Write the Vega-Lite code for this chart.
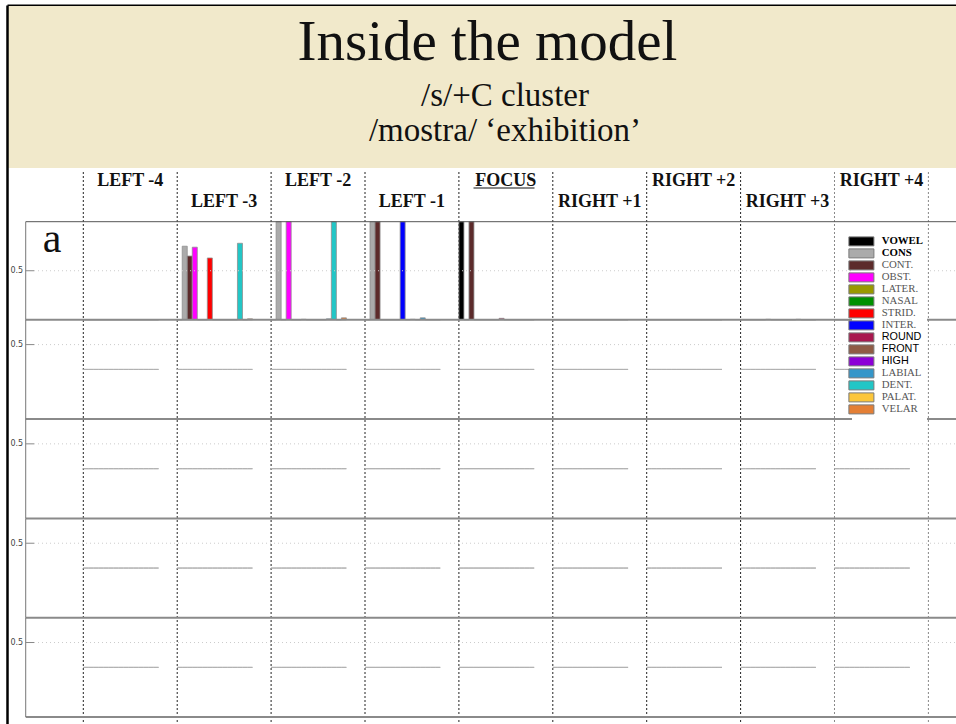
{
"$schema":"https://vega.github.io/schema/vega-lite/v6.json",
"width":949,"height":719,"autosize":"none",
"padding":{"left":7,"top":5,"right":0,"bottom":0},
"background":"#ffffff",
"config":{"view":{"stroke":null}},
"datasets":{
"positions":[{"position":"LEFT -4"},{"position":"LEFT -3"},{"position":"LEFT -2"},{"position":"LEFT -1"},{"position":"FOCUS"},{"position":"RIGHT +1"},{"position":"RIGHT +2"},{"position":"RIGHT +3"},{"position":"RIGHT +4"}],
"row_a":[
{"position":"LEFT -4","feature":"VOWEL","value":0},{"position":"LEFT -4","feature":"CONS","value":0},{"position":"LEFT -4","feature":"CONT.","value":0},{"position":"LEFT -4","feature":"OBST.","value":0},{"position":"LEFT -4","feature":"LATER.","value":0},{"position":"LEFT -4","feature":"NASAL","value":0},{"position":"LEFT -4","feature":"STRID.","value":0},{"position":"LEFT -4","feature":"INTER.","value":0},{"position":"LEFT -4","feature":"ROUND","value":0},{"position":"LEFT -4","feature":"FRONT","value":0},{"position":"LEFT -4","feature":"HIGH","value":0},{"position":"LEFT -4","feature":"LABIAL","value":0},{"position":"LEFT -4","feature":"DENT.","value":0},{"position":"LEFT -4","feature":"PALAT.","value":0},{"position":"LEFT -4","feature":"VELAR","value":0},
{"position":"LEFT -3","feature":"VOWEL","value":0},{"position":"LEFT -3","feature":"CONS","value":0.75},{"position":"LEFT -3","feature":"CONT.","value":0.65},{"position":"LEFT -3","feature":"OBST.","value":0.74},{"position":"LEFT -3","feature":"LATER.","value":0},{"position":"LEFT -3","feature":"NASAL","value":0},{"position":"LEFT -3","feature":"STRID.","value":0.63},{"position":"LEFT -3","feature":"INTER.","value":0},{"position":"LEFT -3","feature":"ROUND","value":0},{"position":"LEFT -3","feature":"FRONT","value":0},{"position":"LEFT -3","feature":"HIGH","value":0},{"position":"LEFT -3","feature":"LABIAL","value":0},{"position":"LEFT -3","feature":"DENT.","value":0.78},{"position":"LEFT -3","feature":"PALAT.","value":0},{"position":"LEFT -3","feature":"VELAR","value":0.01},
{"position":"LEFT -2","feature":"VOWEL","value":0},{"position":"LEFT -2","feature":"CONS","value":1},{"position":"LEFT -2","feature":"CONT.","value":0},{"position":"LEFT -2","feature":"OBST.","value":1},{"position":"LEFT -2","feature":"LATER.","value":0},{"position":"LEFT -2","feature":"NASAL","value":0},{"position":"LEFT -2","feature":"STRID.","value":0.005},{"position":"LEFT -2","feature":"INTER.","value":0},{"position":"LEFT -2","feature":"ROUND","value":0},{"position":"LEFT -2","feature":"FRONT","value":0},{"position":"LEFT -2","feature":"HIGH","value":0},{"position":"LEFT -2","feature":"LABIAL","value":0.01},{"position":"LEFT -2","feature":"DENT.","value":1},{"position":"LEFT -2","feature":"PALAT.","value":0},{"position":"LEFT -2","feature":"VELAR","value":0.02},
{"position":"LEFT -1","feature":"VOWEL","value":0},{"position":"LEFT -1","feature":"CONS","value":1},{"position":"LEFT -1","feature":"CONT.","value":1},{"position":"LEFT -1","feature":"OBST.","value":0},{"position":"LEFT -1","feature":"LATER.","value":0},{"position":"LEFT -1","feature":"NASAL","value":0},{"position":"LEFT -1","feature":"STRID.","value":0},{"position":"LEFT -1","feature":"INTER.","value":1},{"position":"LEFT -1","feature":"ROUND","value":0},{"position":"LEFT -1","feature":"FRONT","value":0.005},{"position":"LEFT -1","feature":"HIGH","value":0},{"position":"LEFT -1","feature":"LABIAL","value":0.02},{"position":"LEFT -1","feature":"DENT.","value":0},{"position":"LEFT -1","feature":"PALAT.","value":0},{"position":"LEFT -1","feature":"VELAR","value":0},
{"position":"FOCUS","feature":"VOWEL","value":1},{"position":"FOCUS","feature":"CONS","value":0},{"position":"FOCUS","feature":"CONT.","value":1},{"position":"FOCUS","feature":"OBST.","value":0},{"position":"FOCUS","feature":"LATER.","value":0},{"position":"FOCUS","feature":"NASAL","value":0},{"position":"FOCUS","feature":"STRID.","value":0},{"position":"FOCUS","feature":"INTER.","value":0},{"position":"FOCUS","feature":"ROUND","value":0.015},{"position":"FOCUS","feature":"FRONT","value":0},{"position":"FOCUS","feature":"HIGH","value":0},{"position":"FOCUS","feature":"LABIAL","value":0},{"position":"FOCUS","feature":"DENT.","value":0},{"position":"FOCUS","feature":"PALAT.","value":0},{"position":"FOCUS","feature":"VELAR","value":0},
{"position":"RIGHT +1","feature":"VOWEL","value":0},{"position":"RIGHT +1","feature":"CONS","value":0},{"position":"RIGHT +1","feature":"CONT.","value":0},{"position":"RIGHT +1","feature":"OBST.","value":0},{"position":"RIGHT +1","feature":"LATER.","value":0},{"position":"RIGHT +1","feature":"NASAL","value":0},{"position":"RIGHT +1","feature":"STRID.","value":0},{"position":"RIGHT +1","feature":"INTER.","value":0},{"position":"RIGHT +1","feature":"ROUND","value":0},{"position":"RIGHT +1","feature":"FRONT","value":0},{"position":"RIGHT +1","feature":"HIGH","value":0},{"position":"RIGHT +1","feature":"LABIAL","value":0},{"position":"RIGHT +1","feature":"DENT.","value":0},{"position":"RIGHT +1","feature":"PALAT.","value":0},{"position":"RIGHT +1","feature":"VELAR","value":0},
{"position":"RIGHT +2","feature":"VOWEL","value":0},{"position":"RIGHT +2","feature":"CONS","value":0},{"position":"RIGHT +2","feature":"CONT.","value":0},{"position":"RIGHT +2","feature":"OBST.","value":0},{"position":"RIGHT +2","feature":"LATER.","value":0},{"position":"RIGHT +2","feature":"NASAL","value":0},{"position":"RIGHT +2","feature":"STRID.","value":0},{"position":"RIGHT +2","feature":"INTER.","value":0},{"position":"RIGHT +2","feature":"ROUND","value":0},{"position":"RIGHT +2","feature":"FRONT","value":0},{"position":"RIGHT +2","feature":"HIGH","value":0},{"position":"RIGHT +2","feature":"LABIAL","value":0},{"position":"RIGHT +2","feature":"DENT.","value":0},{"position":"RIGHT +2","feature":"PALAT.","value":0},{"position":"RIGHT +2","feature":"VELAR","value":0},
{"position":"RIGHT +3","feature":"VOWEL","value":0},{"position":"RIGHT +3","feature":"CONS","value":0},{"position":"RIGHT +3","feature":"CONT.","value":0},{"position":"RIGHT +3","feature":"OBST.","value":0},{"position":"RIGHT +3","feature":"LATER.","value":0},{"position":"RIGHT +3","feature":"NASAL","value":0.005},{"position":"RIGHT +3","feature":"STRID.","value":0},{"position":"RIGHT +3","feature":"INTER.","value":0},{"position":"RIGHT +3","feature":"ROUND","value":0},{"position":"RIGHT +3","feature":"FRONT","value":0},{"position":"RIGHT +3","feature":"HIGH","value":0},{"position":"RIGHT +3","feature":"LABIAL","value":0.005},{"position":"RIGHT +3","feature":"DENT.","value":0},{"position":"RIGHT +3","feature":"PALAT.","value":0},{"position":"RIGHT +3","feature":"VELAR","value":0},
{"position":"RIGHT +4","feature":"VOWEL","value":0},{"position":"RIGHT +4","feature":"CONS","value":0},{"position":"RIGHT +4","feature":"CONT.","value":0},{"position":"RIGHT +4","feature":"OBST.","value":0},{"position":"RIGHT +4","feature":"LATER.","value":0},{"position":"RIGHT +4","feature":"NASAL","value":0},{"position":"RIGHT +4","feature":"STRID.","value":0},{"position":"RIGHT +4","feature":"INTER.","value":0},{"position":"RIGHT +4","feature":"ROUND","value":0},{"position":"RIGHT +4","feature":"FRONT","value":0},{"position":"RIGHT +4","feature":"HIGH","value":0},{"position":"RIGHT +4","feature":"LABIAL","value":0},{"position":"RIGHT +4","feature":"DENT.","value":0},{"position":"RIGHT +4","feature":"PALAT.","value":0},{"position":"RIGHT +4","feature":"VELAR","value":0}
],
"blank":[
{"position":"LEFT -4","feature":"VOWEL","value":0},{"position":"LEFT -4","feature":"CONS","value":0},{"position":"LEFT -4","feature":"CONT.","value":0},{"position":"LEFT -4","feature":"OBST.","value":0},{"position":"LEFT -4","feature":"LATER.","value":0},{"position":"LEFT -4","feature":"NASAL","value":0},{"position":"LEFT -4","feature":"STRID.","value":0},{"position":"LEFT -4","feature":"INTER.","value":0},{"position":"LEFT -4","feature":"ROUND","value":0},{"position":"LEFT -4","feature":"FRONT","value":0},{"position":"LEFT -4","feature":"HIGH","value":0},{"position":"LEFT -4","feature":"LABIAL","value":0},{"position":"LEFT -4","feature":"DENT.","value":0},{"position":"LEFT -4","feature":"PALAT.","value":0},{"position":"LEFT -4","feature":"VELAR","value":0},
{"position":"LEFT -3","feature":"VOWEL","value":0},{"position":"LEFT -3","feature":"CONS","value":0},{"position":"LEFT -3","feature":"CONT.","value":0},{"position":"LEFT -3","feature":"OBST.","value":0},{"position":"LEFT -3","feature":"LATER.","value":0},{"position":"LEFT -3","feature":"NASAL","value":0},{"position":"LEFT -3","feature":"STRID.","value":0},{"position":"LEFT -3","feature":"INTER.","value":0},{"position":"LEFT -3","feature":"ROUND","value":0},{"position":"LEFT -3","feature":"FRONT","value":0},{"position":"LEFT -3","feature":"HIGH","value":0},{"position":"LEFT -3","feature":"LABIAL","value":0},{"position":"LEFT -3","feature":"DENT.","value":0},{"position":"LEFT -3","feature":"PALAT.","value":0},{"position":"LEFT -3","feature":"VELAR","value":0},
{"position":"LEFT -2","feature":"VOWEL","value":0},{"position":"LEFT -2","feature":"CONS","value":0},{"position":"LEFT -2","feature":"CONT.","value":0},{"position":"LEFT -2","feature":"OBST.","value":0},{"position":"LEFT -2","feature":"LATER.","value":0},{"position":"LEFT -2","feature":"NASAL","value":0},{"position":"LEFT -2","feature":"STRID.","value":0},{"position":"LEFT -2","feature":"INTER.","value":0},{"position":"LEFT -2","feature":"ROUND","value":0},{"position":"LEFT -2","feature":"FRONT","value":0},{"position":"LEFT -2","feature":"HIGH","value":0},{"position":"LEFT -2","feature":"LABIAL","value":0},{"position":"LEFT -2","feature":"DENT.","value":0},{"position":"LEFT -2","feature":"PALAT.","value":0},{"position":"LEFT -2","feature":"VELAR","value":0},
{"position":"LEFT -1","feature":"VOWEL","value":0},{"position":"LEFT -1","feature":"CONS","value":0},{"position":"LEFT -1","feature":"CONT.","value":0},{"position":"LEFT -1","feature":"OBST.","value":0},{"position":"LEFT -1","feature":"LATER.","value":0},{"position":"LEFT -1","feature":"NASAL","value":0},{"position":"LEFT -1","feature":"STRID.","value":0},{"position":"LEFT -1","feature":"INTER.","value":0},{"position":"LEFT -1","feature":"ROUND","value":0},{"position":"LEFT -1","feature":"FRONT","value":0},{"position":"LEFT -1","feature":"HIGH","value":0},{"position":"LEFT -1","feature":"LABIAL","value":0},{"position":"LEFT -1","feature":"DENT.","value":0},{"position":"LEFT -1","feature":"PALAT.","value":0},{"position":"LEFT -1","feature":"VELAR","value":0},
{"position":"FOCUS","feature":"VOWEL","value":0},{"position":"FOCUS","feature":"CONS","value":0},{"position":"FOCUS","feature":"CONT.","value":0},{"position":"FOCUS","feature":"OBST.","value":0},{"position":"FOCUS","feature":"LATER.","value":0},{"position":"FOCUS","feature":"NASAL","value":0},{"position":"FOCUS","feature":"STRID.","value":0},{"position":"FOCUS","feature":"INTER.","value":0},{"position":"FOCUS","feature":"ROUND","value":0},{"position":"FOCUS","feature":"FRONT","value":0},{"position":"FOCUS","feature":"HIGH","value":0},{"position":"FOCUS","feature":"LABIAL","value":0},{"position":"FOCUS","feature":"DENT.","value":0},{"position":"FOCUS","feature":"PALAT.","value":0},{"position":"FOCUS","feature":"VELAR","value":0},
{"position":"RIGHT +1","feature":"VOWEL","value":0},{"position":"RIGHT +1","feature":"CONS","value":0},{"position":"RIGHT +1","feature":"CONT.","value":0},{"position":"RIGHT +1","feature":"OBST.","value":0},{"position":"RIGHT +1","feature":"LATER.","value":0},{"position":"RIGHT +1","feature":"NASAL","value":0},{"position":"RIGHT +1","feature":"STRID.","value":0},{"position":"RIGHT +1","feature":"INTER.","value":0},{"position":"RIGHT +1","feature":"ROUND","value":0},{"position":"RIGHT +1","feature":"FRONT","value":0},{"position":"RIGHT +1","feature":"HIGH","value":0},{"position":"RIGHT +1","feature":"LABIAL","value":0},{"position":"RIGHT +1","feature":"DENT.","value":0},{"position":"RIGHT +1","feature":"PALAT.","value":0},{"position":"RIGHT +1","feature":"VELAR","value":0},
{"position":"RIGHT +2","feature":"VOWEL","value":0},{"position":"RIGHT +2","feature":"CONS","value":0},{"position":"RIGHT +2","feature":"CONT.","value":0},{"position":"RIGHT +2","feature":"OBST.","value":0},{"position":"RIGHT +2","feature":"LATER.","value":0},{"position":"RIGHT +2","feature":"NASAL","value":0},{"position":"RIGHT +2","feature":"STRID.","value":0},{"position":"RIGHT +2","feature":"INTER.","value":0},{"position":"RIGHT +2","feature":"ROUND","value":0},{"position":"RIGHT +2","feature":"FRONT","value":0},{"position":"RIGHT +2","feature":"HIGH","value":0},{"position":"RIGHT +2","feature":"LABIAL","value":0},{"position":"RIGHT +2","feature":"DENT.","value":0},{"position":"RIGHT +2","feature":"PALAT.","value":0},{"position":"RIGHT +2","feature":"VELAR","value":0},
{"position":"RIGHT +3","feature":"VOWEL","value":0},{"position":"RIGHT +3","feature":"CONS","value":0},{"position":"RIGHT +3","feature":"CONT.","value":0},{"position":"RIGHT +3","feature":"OBST.","value":0},{"position":"RIGHT +3","feature":"LATER.","value":0},{"position":"RIGHT +3","feature":"NASAL","value":0},{"position":"RIGHT +3","feature":"STRID.","value":0},{"position":"RIGHT +3","feature":"INTER.","value":0},{"position":"RIGHT +3","feature":"ROUND","value":0},{"position":"RIGHT +3","feature":"FRONT","value":0},{"position":"RIGHT +3","feature":"HIGH","value":0},{"position":"RIGHT +3","feature":"LABIAL","value":0},{"position":"RIGHT +3","feature":"DENT.","value":0},{"position":"RIGHT +3","feature":"PALAT.","value":0},{"position":"RIGHT +3","feature":"VELAR","value":0},
{"position":"RIGHT +4","feature":"VOWEL","value":0},{"position":"RIGHT +4","feature":"CONS","value":0},{"position":"RIGHT +4","feature":"CONT.","value":0},{"position":"RIGHT +4","feature":"OBST.","value":0},{"position":"RIGHT +4","feature":"LATER.","value":0},{"position":"RIGHT +4","feature":"NASAL","value":0},{"position":"RIGHT +4","feature":"STRID.","value":0},{"position":"RIGHT +4","feature":"INTER.","value":0},{"position":"RIGHT +4","feature":"ROUND","value":0},{"position":"RIGHT +4","feature":"FRONT","value":0},{"position":"RIGHT +4","feature":"HIGH","value":0},{"position":"RIGHT +4","feature":"LABIAL","value":0},{"position":"RIGHT +4","feature":"DENT.","value":0},{"position":"RIGHT +4","feature":"PALAT.","value":0},{"position":"RIGHT +4","feature":"VELAR","value":0}
]
},
"resolve":{"scale":{"y":"independent"},"axis":{"x":"independent","y":"independent"}},
"layer":[
{
"layer":[
{"data":{"values":[{"part":"header"}]},"mark":{"type":"rect","fill":"#F1E9CB"},
 "encoding":{"y":{"field":"part","type":"nominal","scale":{"domain":["header"],"paddingInner":0.4183,"paddingOuter":1,"align":0.0018},"axis":{"orient":"left","domain":true,"domainColor":"#000000","domainWidth":2.5,"labels":false,"ticks":false,"grid":false,"title":null}}}},
{"data":{"values":[{"line":"Inside the model"}]},"mark":{"type":"text","font":"Liberation Serif","fontSize":57,"baseline":"alphabetic","align":"center","color":"#111111"},
 "encoding":{"x":{"datum":"FOCUS","type":"nominal","bandPosition":0.3798,"scale":{"domain":["LEFT -4","LEFT -3","LEFT -2","LEFT -1","FOCUS","RIGHT +1","RIGHT +2","RIGHT +3","RIGHT +4"],"paddingInner":0.198,"paddingOuter":0.6523,"align":0.6229},"axis":{"orient":"top","domain":true,"domainColor":"#000000","domainWidth":2,"labels":false,"ticks":false,"grid":false,"title":null}},
  "y":{"datum":"header","type":"nominal","bandPosition":0.333},"text":{"field":"line"}}},
{"data":{"values":[{"line":"/s/+C cluster"}]},"mark":{"type":"text","font":"Liberation Serif","fontSize":33,"baseline":"alphabetic","align":"center","color":"#111111"},
 "encoding":{"x":{"datum":"FOCUS","type":"nominal","bandPosition":0.6121},"y":{"datum":"header","type":"nominal","bandPosition":0.617},"text":{"field":"line"}}},
{"data":{"values":[{"line":"/mostra/ ‘exhibition’"}]},"mark":{"type":"text","font":"Liberation Serif","fontSize":33,"baseline":"alphabetic","align":"center","color":"#111111"},
 "encoding":{"x":{"datum":"FOCUS","type":"nominal","bandPosition":0.6121},"y":{"datum":"header","type":"nominal","bandPosition":0.833},"text":{"field":"line"}}},
{"data":{"name":"positions"},"mark":{"type":"rule","strokeDash":[2,2],"strokeWidth":1},
 "encoding":{"x":{"field":"position","type":"nominal","bandPosition":0},"y":{"datum":"header","type":"nominal","bandPosition":1.0247},"y2":{"datum":"header","bandPosition":4.432},
  "color":{"condition":{"test":"datum.position === 'RIGHT +4'","value":"#888888"},"value":"#222222"}}},
{"data":{"values":[{}]},"mark":{"type":"rule","strokeDash":[2,2],"strokeWidth":1,"color":"#888888"},
 "encoding":{"x":{"datum":"RIGHT +4","type":"nominal","bandPosition":1.2468},"y":{"datum":"header","type":"nominal","bandPosition":1.0247},"y2":{"datum":"header","bandPosition":4.432}}},
{"data":{"name":"positions"},"transform":[{"filter":{"field":"position","oneOf":["LEFT -4","LEFT -2","FOCUS","RIGHT +2","RIGHT +4"]}}],
 "mark":{"type":"text","font":"Liberation Serif","fontWeight":"bold","fontSize":18,"baseline":"alphabetic","align":"center","color":"#111111"},
 "encoding":{"x":{"field":"position","type":"nominal","bandPosition":0.6234},"y":{"datum":"header","type":"nominal","bandPosition":1.1111},"text":{"field":"position"}}},
{"data":{"name":"positions"},"transform":[{"filter":{"field":"position","oneOf":["LEFT -3","LEFT -1","RIGHT +1","RIGHT +3"]}}],
 "mark":{"type":"text","font":"Liberation Serif","fontWeight":"bold","fontSize":18,"baseline":"alphabetic","align":"center","color":"#111111"},
 "encoding":{"x":{"field":"position","type":"nominal","bandPosition":0.6234},"y":{"datum":"header","type":"nominal","bandPosition":1.2407},"text":{"field":"position"}}},
{"data":{"values":[{}]},"mark":{"type":"rule","color":"#111111","strokeWidth":1.2},
 "encoding":{"x":{"datum":"FOCUS","type":"nominal","bandPosition":0.1939},"x2":{"datum":"FOCUS","bandPosition":1.0038},"y":{"datum":"header","type":"nominal","bandPosition":1.1235}}}
]
},
{
"layer":[
{"data":{"name":"row_a"},"mark":{"type":"bar","stroke":"#8f8f8f","strokeWidth":0.8},
 "encoding":{"x":{"field":"position","type":"nominal","scale":{"domain":["LEFT -4","LEFT -3","LEFT -2","LEFT -1","FOCUS","RIGHT +1","RIGHT +2","RIGHT +3","RIGHT +4"],"paddingInner":0.198,"paddingOuter":0.6523,"align":0.6229},"axis":null},
  "xOffset":{"field":"feature","type":"nominal","scale":{"domain":["VOWEL","CONS","CONT.","OBST.","LATER.","NASAL","STRID.","INTER.","ROUND","FRONT","HIGH","LABIAL","DENT.","PALAT.","VELAR"],"paddingInner":0,"paddingOuter":0,"align":0}},
  "y":{"field":"value","type":"quantitative","stack":null,"scale":{"domain":[-4.1203,3.2089],"zero":false,"nice":false},"axis":{"orient":"left","offset":-18.7,"values":[0.5],"format":".1f","domain":false,"ticks":false,"grid":false,"title":null,"labelFont":"DejaVu Sans","labelFontSize":8,"labelColor":"#444444","labelPadding":3}},
  "color":{"field":"feature","type":"nominal","scale":{"domain":["VOWEL","CONS","CONT.","OBST.","LATER.","NASAL","STRID.","INTER.","ROUND","FRONT","HIGH","LABIAL","DENT.","PALAT.","VELAR"],"range":["#000000","#ababab","#5c2b2b","#ff00ff","#999900","#009000","#ff0000","#0000ff","#a8174e","#8f5b45","#8c00d6","#3596c9","#22c6c6","#fcc63a","#e47f35"]},
   "legend":{"title":null,"orient":"none","legendX":845,"legendY":227,"direction":"vertical","columns":1,"symbolType":"M-2.78,-1H2.78V1H-2.78Z","symbolSize":81,"symbolStrokeColor":"#7a7a7a","symbolStrokeWidth":1,"symbolOpacity":1,"labelFont":"Liberation Serif","labelFontSize":10.8,"labelColor":"#555555","labelOffset":15,"rowPadding":-2.2,"padding":4,"fillColor":"#ffffff",
    "encode":{"labels":{"update":{"font":{"signal":"indexof(['ROUND','FRONT','HIGH'], datum.label) >= 0 ? 'Liberation Sans' : 'Liberation Serif'"},"fontWeight":{"signal":"indexof(['VOWEL','CONS'], datum.label) >= 0 ? 'bold' : 'normal'"},"fill":{"signal":"indexof(['VOWEL','CONS','ROUND','FRONT','HIGH'], datum.label) >= 0 ? '#000000' : '#555555'"}}}}}}}},
{"data":{"values":[{}]},"mark":{"type":"rule","color":"#555555","strokeWidth":1},
 "encoding":{"x":{"datum":"LEFT -4","type":"nominal","bandPosition":-0.7648},"x2":{"datum":"RIGHT +4","bandPosition":1.65},"y":{"datum":1,"type":"quantitative","scale":{"domain":[-4.1203,3.2089],"zero":false,"nice":false}}}},
{"data":{"values":[{}]},"mark":{"type":"rule","color":"#8a8a8a","strokeWidth":2},
 "encoding":{"x":{"datum":"LEFT -4","type":"nominal","bandPosition":-0.7648},"x2":{"datum":"RIGHT +4","bandPosition":1.65},"y":{"datum":0,"type":"quantitative","scale":{"domain":[-4.1203,3.2089],"zero":false,"nice":false}}}},
{"data":{"values":[{}]},"mark":{"type":"rule","color":"#777777","strokeWidth":1},
 "encoding":{"x":{"datum":"LEFT -4","type":"nominal","bandPosition":-0.7648},"y":{"datum":0,"type":"quantitative","scale":{"domain":[-4.1203,3.2089],"zero":false,"nice":false}},"y2":{"datum":1}}},
{"data":{"values":[{}]},"mark":{"type":"rule","color":"#cccccc","strokeWidth":1,"strokeDash":[1,3]},
 "encoding":{"x":{"datum":"LEFT -4","type":"nominal","bandPosition":-0.6546},"x2":{"datum":"RIGHT +4","bandPosition":1.65},"y":{"datum":0.5,"type":"quantitative","scale":{"domain":[-4.1203,3.2089],"zero":false,"nice":false}}}},
{"data":{"values":[{}]},"mark":{"type":"rule","color":"#888888","strokeWidth":1},
 "encoding":{"x":{"datum":"LEFT -4","type":"nominal","bandPosition":-0.7648},"x2":{"datum":"LEFT -4","bandPosition":-0.6546},"y":{"datum":0.5,"type":"quantitative","scale":{"domain":[-4.1203,3.2089],"zero":false,"nice":false}}}},
{"data":{"values":[{"label":"a"}]},"mark":{"type":"text","font":"Liberation Serif","fontSize":42,"baseline":"alphabetic","align":"center","color":"#111111"},
 "encoding":{"x":{"datum":"LEFT -4","type":"nominal","bandPosition":-0.4152},"y":{"datum":0.691,"type":"quantitative","scale":{"domain":[-4.1203,3.2089],"zero":false,"nice":false}},"text":{"field":"label"}}}
]
},
{
"layer":[
{"data":{"name":"blank"},"mark":{"type":"bar","fill":"#b0b0b0","stroke":"#b0b0b0","strokeWidth":1},
 "encoding":{"x":{"field":"position","type":"nominal","axis":null},"xOffset":{"field":"feature","type":"nominal"},
  "y":{"field":"value","type":"quantitative","stack":null,"scale":{"domain":[-7.1492,7.3468],"zero":false,"nice":false},"axis":{"orient":"left","offset":-18.7,"values":[0.5],"format":".1f","domain":false,"ticks":false,"grid":false,"title":null,"labelFont":"DejaVu Sans","labelFontSize":8,"labelColor":"#444444","labelPadding":3}}}},
{"data":{"values":[{}]},"mark":{"type":"rule","color":"#8a8a8a","strokeWidth":2},
 "encoding":{"x":{"datum":"LEFT -4","type":"nominal","bandPosition":-0.7648},"x2":{"datum":"RIGHT +4","bandPosition":1.65},"y":{"datum":-1,"type":"quantitative","scale":{"domain":[-7.1492,7.3468],"zero":false,"nice":false}}}},
{"data":{"values":[{}]},"mark":{"type":"rule","color":"#777777","strokeWidth":1},
 "encoding":{"x":{"datum":"LEFT -4","type":"nominal","bandPosition":-0.7648},"y":{"datum":-1,"type":"quantitative","scale":{"domain":[-7.1492,7.3468],"zero":false,"nice":false}},"y2":{"datum":1}}},
{"data":{"values":[{}]},"mark":{"type":"rule","color":"#cccccc","strokeWidth":1,"strokeDash":[1,3]},
 "encoding":{"x":{"datum":"LEFT -4","type":"nominal","bandPosition":-0.6546},"x2":{"datum":"RIGHT +4","bandPosition":1.65},"y":{"datum":0.5,"type":"quantitative","scale":{"domain":[-7.1492,7.3468],"zero":false,"nice":false}}}},
{"data":{"values":[{}]},"mark":{"type":"rule","color":"#888888","strokeWidth":1},
 "encoding":{"x":{"datum":"LEFT -4","type":"nominal","bandPosition":-0.7648},"x2":{"datum":"LEFT -4","bandPosition":-0.6546},"y":{"datum":0.5,"type":"quantitative","scale":{"domain":[-7.1492,7.3468],"zero":false,"nice":false}}}}
]
},
{
"layer":[
{"data":{"name":"blank"},"mark":{"type":"bar","fill":"#b0b0b0","stroke":"#b0b0b0","strokeWidth":1},
 "encoding":{"x":{"field":"position","type":"nominal","axis":null},"xOffset":{"field":"feature","type":"nominal"},
  "y":{"field":"value","type":"quantitative","stack":null,"scale":{"domain":[-5.1368,9.3302],"zero":false,"nice":false},"axis":{"orient":"left","offset":-18.7,"values":[0.5],"format":".1f","domain":false,"ticks":false,"grid":false,"title":null,"labelFont":"DejaVu Sans","labelFontSize":8,"labelColor":"#444444","labelPadding":3}}}},
{"data":{"values":[{}]},"mark":{"type":"rule","color":"#8a8a8a","strokeWidth":2},
 "encoding":{"x":{"datum":"LEFT -4","type":"nominal","bandPosition":-0.7648},"x2":{"datum":"RIGHT +4","bandPosition":1.65},"y":{"datum":-1,"type":"quantitative","scale":{"domain":[-5.1368,9.3302],"zero":false,"nice":false}}}},
{"data":{"values":[{}]},"mark":{"type":"rule","color":"#777777","strokeWidth":1},
 "encoding":{"x":{"datum":"LEFT -4","type":"nominal","bandPosition":-0.7648},"y":{"datum":-1,"type":"quantitative","scale":{"domain":[-5.1368,9.3302],"zero":false,"nice":false}},"y2":{"datum":1}}},
{"data":{"values":[{}]},"mark":{"type":"rule","color":"#cccccc","strokeWidth":1,"strokeDash":[1,3]},
 "encoding":{"x":{"datum":"LEFT -4","type":"nominal","bandPosition":-0.6546},"x2":{"datum":"RIGHT +4","bandPosition":1.65},"y":{"datum":0.5,"type":"quantitative","scale":{"domain":[-5.1368,9.3302],"zero":false,"nice":false}}}},
{"data":{"values":[{}]},"mark":{"type":"rule","color":"#888888","strokeWidth":1},
 "encoding":{"x":{"datum":"LEFT -4","type":"nominal","bandPosition":-0.7648},"x2":{"datum":"LEFT -4","bandPosition":-0.6546},"y":{"datum":0.5,"type":"quantitative","scale":{"domain":[-5.1368,9.3302],"zero":false,"nice":false}}}}
]
},
{
"layer":[
{"data":{"name":"blank"},"mark":{"type":"bar","fill":"#b0b0b0","stroke":"#b0b0b0","strokeWidth":1},
 "encoding":{"x":{"field":"position","type":"nominal","axis":null},"xOffset":{"field":"feature","type":"nominal"},
  "y":{"field":"value","type":"quantitative","stack":null,"scale":{"domain":[-3.1409,11.340],"zero":false,"nice":false},"axis":{"orient":"left","offset":-18.7,"values":[0.5],"format":".1f","domain":false,"ticks":false,"grid":false,"title":null,"labelFont":"DejaVu Sans","labelFontSize":8,"labelColor":"#444444","labelPadding":3}}}},
{"data":{"values":[{}]},"mark":{"type":"rule","color":"#8a8a8a","strokeWidth":2},
 "encoding":{"x":{"datum":"LEFT -4","type":"nominal","bandPosition":-0.7648},"x2":{"datum":"RIGHT +4","bandPosition":1.65},"y":{"datum":-1,"type":"quantitative","scale":{"domain":[-3.1409,11.340],"zero":false,"nice":false}}}},
{"data":{"values":[{}]},"mark":{"type":"rule","color":"#777777","strokeWidth":1},
 "encoding":{"x":{"datum":"LEFT -4","type":"nominal","bandPosition":-0.7648},"y":{"datum":-1,"type":"quantitative","scale":{"domain":[-3.1409,11.340],"zero":false,"nice":false}},"y2":{"datum":1}}},
{"data":{"values":[{}]},"mark":{"type":"rule","color":"#cccccc","strokeWidth":1,"strokeDash":[1,3]},
 "encoding":{"x":{"datum":"LEFT -4","type":"nominal","bandPosition":-0.6546},"x2":{"datum":"RIGHT +4","bandPosition":1.65},"y":{"datum":0.5,"type":"quantitative","scale":{"domain":[-3.1409,11.340],"zero":false,"nice":false}}}},
{"data":{"values":[{}]},"mark":{"type":"rule","color":"#888888","strokeWidth":1},
 "encoding":{"x":{"datum":"LEFT -4","type":"nominal","bandPosition":-0.7648},"x2":{"datum":"LEFT -4","bandPosition":-0.6546},"y":{"datum":0.5,"type":"quantitative","scale":{"domain":[-3.1409,11.340],"zero":false,"nice":false}}}}
]
},
{
"layer":[
{"data":{"name":"blank"},"mark":{"type":"bar","fill":"#b0b0b0","stroke":"#b0b0b0","strokeWidth":1},
 "encoding":{"x":{"field":"position","type":"nominal","axis":null},"xOffset":{"field":"feature","type":"nominal"},
  "y":{"field":"value","type":"quantitative","stack":null,"scale":{"domain":[-1.1410,13.341],"zero":false,"nice":false},"axis":{"orient":"left","offset":-18.7,"values":[0.5],"format":".1f","domain":false,"ticks":false,"grid":false,"title":null,"labelFont":"DejaVu Sans","labelFontSize":8,"labelColor":"#444444","labelPadding":3}}}},
{"data":{"values":[{}]},"mark":{"type":"rule","color":"#8a8a8a","strokeWidth":2},
 "encoding":{"x":{"datum":"LEFT -4","type":"nominal","bandPosition":-0.7648},"x2":{"datum":"RIGHT +4","bandPosition":1.65},"y":{"datum":-1,"type":"quantitative","scale":{"domain":[-1.1410,13.341],"zero":false,"nice":false}}}},
{"data":{"values":[{}]},"mark":{"type":"rule","color":"#777777","strokeWidth":1},
 "encoding":{"x":{"datum":"LEFT -4","type":"nominal","bandPosition":-0.7648},"y":{"datum":-1,"type":"quantitative","scale":{"domain":[-1.1410,13.341],"zero":false,"nice":false}},"y2":{"datum":1}}},
{"data":{"values":[{}]},"mark":{"type":"rule","color":"#cccccc","strokeWidth":1,"strokeDash":[1,3]},
 "encoding":{"x":{"datum":"LEFT -4","type":"nominal","bandPosition":-0.6546},"x2":{"datum":"RIGHT +4","bandPosition":1.65},"y":{"datum":0.5,"type":"quantitative","scale":{"domain":[-1.1410,13.341],"zero":false,"nice":false}}}},
{"data":{"values":[{}]},"mark":{"type":"rule","color":"#888888","strokeWidth":1},
 "encoding":{"x":{"datum":"LEFT -4","type":"nominal","bandPosition":-0.7648},"x2":{"datum":"LEFT -4","bandPosition":-0.6546},"y":{"datum":0.5,"type":"quantitative","scale":{"domain":[-1.1410,13.341],"zero":false,"nice":false}}}}
]
}
]
}
